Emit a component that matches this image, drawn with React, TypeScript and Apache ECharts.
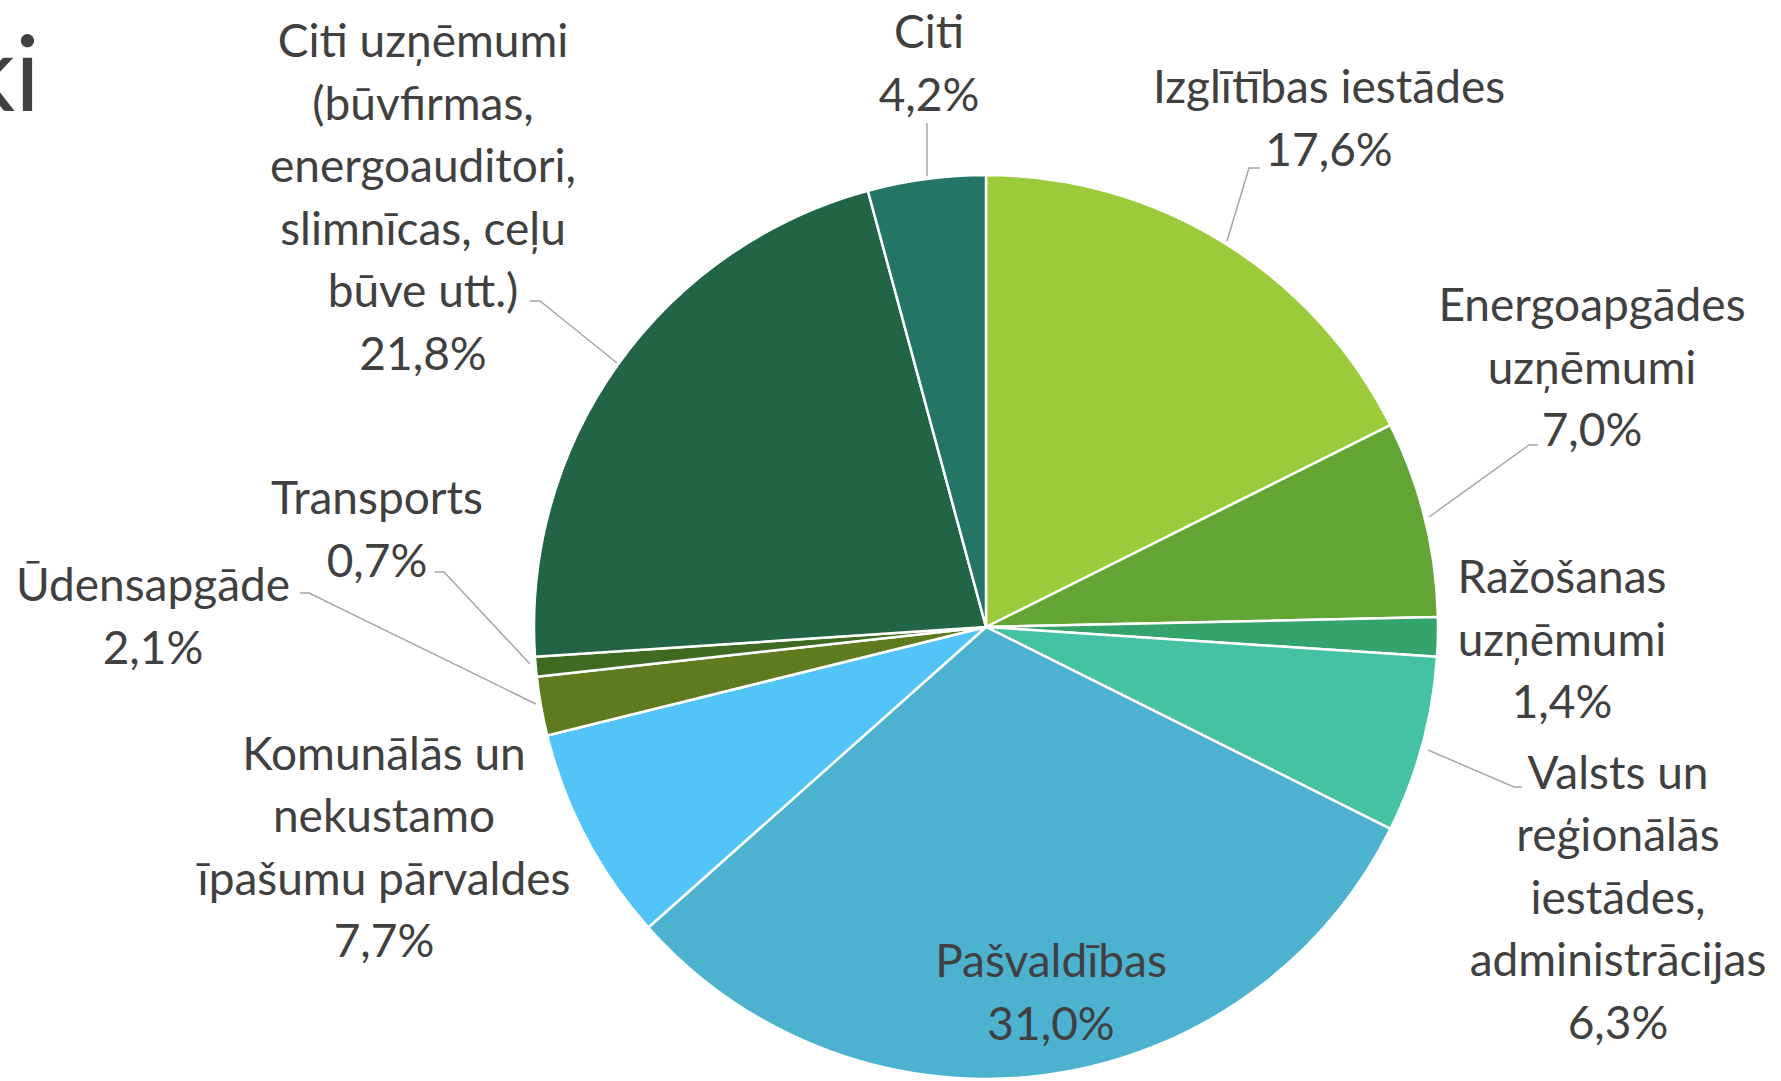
import React, { useEffect, useRef } from "react";
import * as echarts from "echarts";

const categories = [
  "Izglītības iestādes",
  "Energoapgādes\nuzņēmumi",
  "Ražošanas\nuzņēmumi",
  "Valsts un\nreģionālās\niestādes,\nadministrācijas",
  "Pašvaldības",
  "Komunālās un\nnekustamo\nīpašumu pārvaldes",
  "Ūdensapgāde",
  "Transports",
  "Citi uzņēmumi\n(būvfirmas,\nenergoauditori,\nslimnīcas, ceļu\nbūve utt.)",
  "Citi",
];
const shares = [17.6, 7.0, 1.4, 6.3, 31.0, 7.7, 2.1, 0.7, 21.8, 4.2];
const colors = [
  "#9BCB3B",
  "#62A535",
  "#34A46C",
  "#45C2A4",
  "#4DB2D0",
  "#52C4F8",
  "#5E7B20",
  "#3E6A22",
  "#216446",
  "#237665",
];

// label placement (center of label block) and leader lines, by slice index
const labelPos: Record<number, { x: number; y: number; line?: number[][] }> = {
  0: { x: 1329, y: 117, line: [[1227, 241], [1249, 168], [1260, 168]] },
  1: { x: 1592, y: 366, line: [[1429, 517], [1529, 445], [1538, 445]] },
  2: { x: 1562, y: 638 },
  3: { x: 1618, y: 896, line: [[1428, 750], [1514, 787], [1522, 787]] },
  4: { x: 1051, y: 991 },
  5: { x: 384, y: 846 },
  6: { x: 153, y: 615, line: [[536, 704], [309, 593], [300, 593]] },
  7: { x: 377, y: 528, line: [[530, 664], [444, 572], [435, 572]] },
  8: { x: 423, y: 196, line: [[617, 363], [540, 301], [530, 301]] },
  9: { x: 929, y: 62, line: [[927, 176], [927, 123]] },
};

export default function App() {
  const ref = useRef<HTMLDivElement>(null);
  useEffect(() => {
    if (!ref.current) return;
    const chart = echarts.init(ref.current, undefined, { renderer: "svg" });
    const data = categories.map((name, i) => ({
      name,
      value: shares[i],
      itemStyle: { color: colors[i] },
      labelLine: { show: !!labelPos[i].line },
    }));
    chart.setOption({
      animation: false,
      backgroundColor: "#ffffff",
      graphic: [
        {
          type: "text",
          x: 40,
          y: 18,
          style: {
            text: "ki",
            textAlign: "right",
            textVerticalAlign: "top",
            font: "normal 104px Lato",
            fill: "#404040",
          },
        },
      ],
      series: [
        {
          type: "pie",
          center: [986, 627],
          radius: 452,
          startAngle: 90,
          clockwise: true,
          data,
          itemStyle: { borderColor: "#ffffff", borderWidth: 2.5 },
          label: {
            show: true,
            formatter: (p: any) =>
              p.name + "\n" + p.value.toFixed(1).replace(".", ",") + "%",
            fontFamily: "Lato",
            fontSize: 46,
            lineHeight: 62.5,
            color: "#404040",
            align: "center",
          },
          labelLine: {
            show: true,
            lineStyle: { color: "#A6A6A6", width: 1.5 },
          },
          labelLayout: (params: any) => {
            const p = labelPos[params.dataIndex];
            const out: any = {
              x: p.x,
              y: p.y,
              align: "center",
              verticalAlign: "middle",
            };
            if (p.line) out.labelLinePoints = p.line;
            return out;
          },
        },
      ],
    });
    return () => chart.dispose();
  }, []);
  return (
    <div
      ref={ref}
      style={{ position: "fixed", left: 0, top: 0, width: 1781, height: 1081 }}
    />
  );
}
